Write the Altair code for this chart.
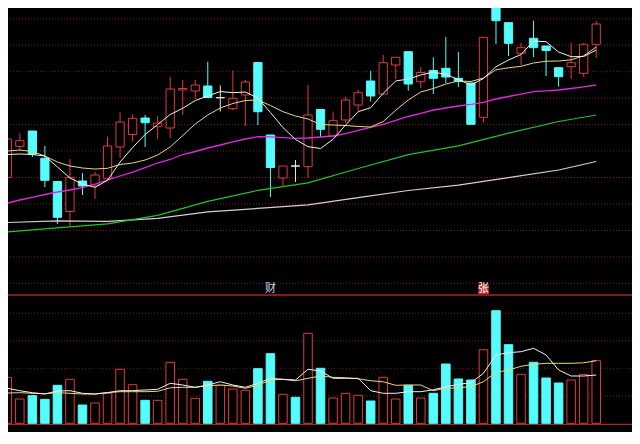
import altair as alt
import pandas as pd

# ---------------- data ----------------
opens = [12.27, 15.37, 16.90, 14.17, 11.85, 8.85, 11.90, 11.50, 12.17, 15.30,
         16.55, 18.20, 17.33, 17.20, 21.00, 20.90, 21.40, 20.22, 19.13, 20.50,
         23.75, 16.50, 12.20, 13.41, 13.33, 19.05, 16.40, 18.00, 19.50, 21.90,
         20.60, 23.50, 24.83, 21.83, 22.95, 23.17, 22.17, 21.70, 18.27, 29.80,
         27.73, 24.67, 26.17, 25.40, 23.23, 23.33, 22.67, 25.57]
closes = [16.10, 15.93, 14.60, 11.97, 8.27, 12.27, 11.40, 12.50, 15.40, 17.80,
          18.17, 17.73, 17.70, 21.10, 21.15, 21.50, 20.25, 20.24, 20.17, 21.80,
          18.83, 13.25, 13.40, 13.39, 18.50, 17.07, 17.93, 20.00, 20.73, 20.40,
          23.73, 24.27, 21.60, 22.75, 22.17, 22.30, 21.85, 17.57, 26.27, 27.93,
          25.67, 25.23, 25.23, 24.95, 22.33, 23.73, 25.57, 27.60]
highs = [16.83, 16.67, 16.90, 15.40, 11.85, 14.10, 12.70, 12.83, 16.33, 18.77,
         18.57, 18.50, 18.40, 22.33, 22.00, 22.00, 23.83, 21.45, 22.95, 22.00,
         23.75, 16.50, 13.40, 14.00, 21.50, 19.05, 18.85, 20.33, 21.05, 22.93,
         24.50, 24.27, 24.83, 23.30, 24.27, 26.30, 24.80, 21.70, 26.30, 29.80,
         27.73, 25.70, 27.93, 25.40, 23.23, 25.73, 25.70, 27.90]
lows = [12.27, 14.93, 14.30, 11.30, 7.60, 7.35, 10.50, 10.10, 12.00, 14.20,
        15.83, 15.30, 16.10, 16.20, 18.50, 20.10, 20.20, 18.85, 19.00, 17.40,
        17.50, 10.30, 11.40, 11.80, 12.20, 16.30, 16.40, 17.70, 18.90, 19.85,
        20.60, 22.10, 20.93, 21.17, 20.60, 21.70, 21.30, 17.57, 17.73, 25.60,
        24.40, 23.50, 24.30, 22.40, 21.33, 22.10, 22.30, 24.20]
volumes = [46.0, 24.3, 27.6, 24.0, 38.0, 44.0, 18.3, 20.3, 30.0, 54.0,
           38.6, 23.0, 23.0, 61.0, 44.0, 25.0, 42.0, 38.0, 34.3, 33.0,
           54.6, 69.6, 29.0, 26.0, 90.0, 55.0, 25.3, 30.0, 28.0, 22.3,
           46.0, 24.3, 38.0, 25.3, 30.0, 59.3, 44.3, 43.3, 73.6, 112.6,
           78.6, 49.0, 61.0, 45.3, 40.3, 43.3, 49.0, 62.6]

ma5 = [14.55, 14.60, 14.55, 14.40, 13.30, 12.20, 11.60, 11.27, 11.97, 13.80,
       15.25, 16.55, 17.55, 18.55, 19.17, 19.95, 20.40, 20.85, 20.73, 20.80,
       20.20, 18.75, 17.25, 16.05, 15.33, 15.15, 16.07, 17.50, 18.83, 19.23,
       20.67, 21.90, 22.10, 22.50, 22.80, 22.55, 22.05, 21.50, 22.15, 23.33,
       24.00, 24.55, 25.90, 25.83, 24.80, 24.33, 24.35, 25.00]
ma10 = [14.90, 15.00, 14.85, 14.40, 13.80, 13.40, 13.20, 13.10, 13.17, 13.55,
        13.70, 14.00, 14.50, 15.30, 16.45, 17.60, 18.50, 19.20, 19.65, 19.95,
        20.00, 19.45, 18.83, 18.40, 18.10, 17.55, 17.50, 17.45, 17.35, 17.30,
        17.85, 18.97, 20.00, 20.80, 21.15, 21.60, 21.90, 21.85, 22.20, 23.02,
        23.22, 23.37, 23.70, 23.88, 23.90, 24.02, 24.42, 25.30]
ma20 = [9.68, 10.00, 10.27, 10.55, 10.80, 11.00, 11.23, 11.60, 11.98, 12.40,
        12.78, 13.23, 13.70, 14.05, 14.55, 14.85, 15.20, 15.50, 15.82, 16.10,
        16.33, 16.32, 16.23, 16.16, 16.20, 16.30, 16.40, 16.64, 16.97, 17.27,
        17.57, 17.97, 18.35, 18.66, 19.00, 19.20, 19.40, 19.57, 19.77, 20.10,
        20.35, 20.58, 20.83, 20.92, 21.00, 21.15, 21.32, 21.50]
long_ma_idx = [0, 4, 8, 12, 16, 20, 24, 28, 32, 36, 40, 44, 47]
ma60 = [6.80, 7.21, 7.61, 8.46, 9.86, 10.96, 11.72, 13.15, 14.54, 15.42, 16.69, 17.85, 18.50]
ma120 = [7.75, 7.92, 7.86, 8.16, 8.81, 9.16, 9.51, 10.24, 10.95, 11.48, 12.24, 13.00, 13.85]

vol_ma5 = [35.0, 32.6, 30.6, 29.3, 32.3, 32.6, 30.0, 29.3, 30.6, 32.6,
           32.6, 33.3, 34.0, 40.0, 38.3, 36.0, 38.3, 41.6, 38.3, 36.0,
           40.0, 45.0, 44.0, 43.3, 54.0, 52.3, 45.0, 45.0, 45.0, 32.6,
           30.0, 30.0, 31.6, 31.6, 33.5, 36.5, 39.0, 40.5, 50.0, 68.3,
           70.6, 71.6, 75.0, 68.3, 53.3, 47.3, 47.3, 48.3]
vol_ma10 = [30.3, 30.6, 30.0, 29.6, 30.6, 30.0, 29.3, 29.3, 30.8, 31.6,
            31.6, 31.6, 32.0, 35.5, 36.0, 36.0, 37.5, 38.3, 37.3, 35.0,
            38.0, 43.3, 44.0, 42.5, 45.0, 47.3, 46.0, 45.5, 44.5, 42.6,
            41.5, 38.0, 38.3, 38.3, 32.6, 35.0, 35.5, 36.6, 41.6, 51.0,
            53.3, 57.0, 59.0, 60.0, 60.0, 60.0, 60.5, 62.6]

price_grid = [28.12, 25.48, 22.83, 20.19, 17.54, 14.90, 12.25, 9.61, 6.96, 4.32, 1.67]
vol_grid = [27.5, 55.0, 82.5, 110.0]
vol_frame = [-1.0, 128.3]
event_text = ["财", "张"]
event_idx = [21, 38]

# ---------------- styling ----------------
RED = "#e03a3a"
CYAN = "#54fcfc"
WHITE = "#e8e8e8"
GRID = "#7a1c1c"
FRAME = "#b02424"

N = len(opens)
cand = pd.DataFrame({"i": list(range(N)), "open": opens, "high": highs,
                     "low": lows, "close": closes, "vol": volumes})
cand["dir"] = ["flat" if abs(c - o) < 0.05 else ("up" if c > o else "down")
               for o, c in zip(opens, closes)]
cand["vdir"] = ["up" if c >= o else "down" for o, c in zip(opens, closes)]

xscale = alt.Scale(domain=[0.056, 49.856], nice=False, zero=False)
pscale = alt.Scale(domain=[-13.2, 29.2], nice=False, zero=False)
vscale = alt.Scale(domain=[-8.7, 415.3], nice=False, zero=False)
stroke_scale = alt.Scale(domain=["up", "down", "flat"], range=[RED, CYAN, WHITE])
fill_scale = alt.Scale(domain=["up", "down", "flat"], range=["#000000", CYAN, WHITE])

X = alt.X("i:Q", scale=xscale, axis=None)

base = alt.Chart(cand)

# price panel
pgrid = alt.Chart(pd.DataFrame({"p": price_grid})).mark_rule(
    color=GRID, strokeDash=[1, 2], strokeWidth=1
).encode(y=alt.Y("p:Q", scale=pscale, axis=None))

wicks = base.mark_rule(strokeWidth=1).encode(
    x=X,
    y=alt.Y("low:Q", scale=pscale, axis=None),
    y2="high:Q",
    stroke=alt.Stroke("dir:N", scale=stroke_scale, legend=None),
)
bodies = base.transform_calculate(
    lo="datum.i - 0.33", hi="datum.i + 0.33"
).mark_rect(strokeWidth=1).encode(
    x=alt.X("lo:Q", scale=xscale, axis=None),
    x2="hi:Q",
    y=alt.Y("open:Q", scale=pscale, axis=None),
    y2="close:Q",
    fill=alt.Fill("dir:N", scale=fill_scale, legend=None),
    stroke=alt.Stroke("dir:N", scale=stroke_scale, legend=None),
)


def line(idx, vals, color, scale, width=1.0):
    df = pd.DataFrame({"i": idx, "v": vals})
    return alt.Chart(df).mark_line(color=color, strokeWidth=width).encode(
        x=X, y=alt.Y("v:Q", scale=scale, axis=None)
    )


all_idx = list(range(N))
l120 = line(long_ma_idx, ma120, "#dcccd4", pscale, 1.2)
l60 = line(long_ma_idx, ma60, "#22c422", pscale, 1.2)
l20 = line(all_idx, ma20, "#e028e0", pscale, 1.3)
l10 = line(all_idx, ma10, "#e8da7a", pscale, 1.0)
l5 = line(all_idx, ma5, "#f2f2f2", pscale, 1.0)

ev = pd.DataFrame({"i": event_idx, "t": event_text})
ev_box = alt.Chart(ev).transform_filter("datum.t == '张'").mark_square(
    size=110, color="#c02a2a", opacity=1
).encode(x=X, y=alt.value(281))
ev_text_cai = alt.Chart(ev).transform_filter("datum.t == '财'").mark_text(
    font="Noto Sans CJK SC", fontSize=11, baseline="middle", align="center",
    color="#c4d4f0"
).encode(x=X, y=alt.value(281), text="t:N")
ev_text_zhang = alt.Chart(ev).transform_filter("datum.t == '张'").mark_text(
    font="Noto Sans CJK SC", fontSize=11, baseline="middle", align="center",
    color="#ffffff"
).encode(x=X, y=alt.value(281), text="t:N")

price_panel = alt.layer(pgrid, wicks, bodies, l120, l60, l20, l10, l5,
                        ev_box, ev_text_cai, ev_text_zhang)

# volume panel
vgrid = alt.Chart(pd.DataFrame({"v": vol_grid})).mark_rule(
    color=GRID, strokeDash=[1, 2], strokeWidth=1
).encode(y=alt.Y("v:Q", scale=vscale, axis=None))
vframe = alt.Chart(pd.DataFrame({"v": vol_frame})).mark_rule(
    color=FRAME, strokeWidth=1.3
).encode(y=alt.Y("v:Q", scale=vscale, axis=None))
vbars = base.transform_calculate(
    lo="datum.i - 0.34", hi="datum.i + 0.34", zero="0"
).mark_rect(strokeWidth=1).encode(
    x=alt.X("lo:Q", scale=xscale, axis=None),
    x2="hi:Q",
    y=alt.Y("vol:Q", scale=vscale, axis=None),
    y2="zero:Q",
    fill=alt.Fill("vdir:N", scale=fill_scale, legend=None),
    stroke=alt.Stroke("vdir:N", scale=stroke_scale, legend=None),
)
vl10 = line(all_idx, vol_ma10, "#e8da7a", vscale, 1.0)
vl5 = line(all_idx, vol_ma5, "#f2f2f2", vscale, 1.0)

vol_panel = alt.layer(vgrid, vframe, vbars, vl10, vl5)

chart = alt.layer(price_panel, vol_panel).resolve_scale(y="independent").properties(
    width=624, height=424, padding=0,
    autosize=alt.AutoSizeParams(type="none"),
    background="#000000",
).configure_view(stroke=None)

chart.save("out.html", embed_options={"renderer": "svg", "actions": False})
